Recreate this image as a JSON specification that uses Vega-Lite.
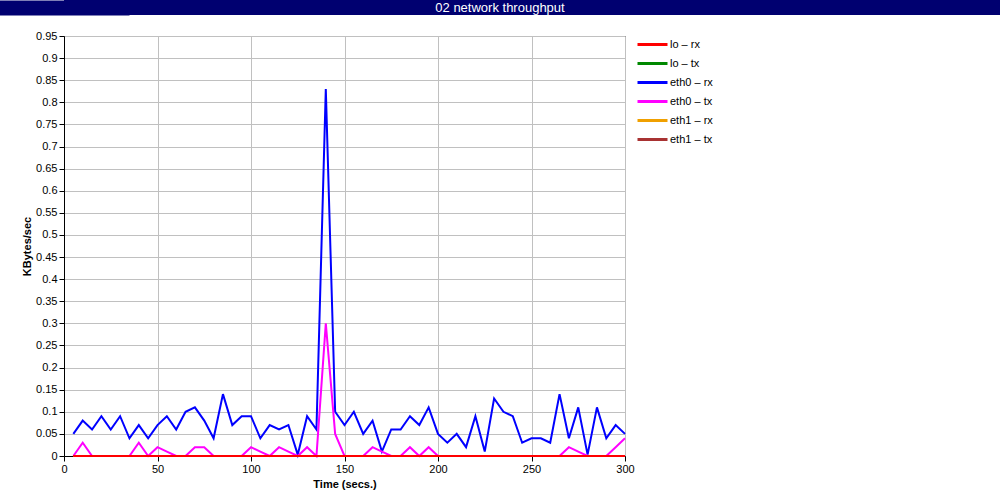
{
  "$schema": "https://vega.github.io/schema/vega-lite/v6.json",
  "background": "white",
  "padding": 0,
  "columns": 1,
  "align": "none",
  "spacing": 14,
  "resolve": {"legend": {"color": "independent"}, "scale": {"color": "independent"}},
  "config": {"font": "Liberation Sans"},
  "datasets": {
    "net": [
      {"t":5,"lo_rx":0,"lo_tx":0,"eth0_rx":0.05,"eth0_tx":0,"eth1_rx":0,"eth1_tx":0},
      {"t":10,"lo_rx":0,"lo_tx":0,"eth0_rx":0.08,"eth0_tx":0.03,"eth1_rx":0,"eth1_tx":0},
      {"t":15,"lo_rx":0,"lo_tx":0,"eth0_rx":0.06,"eth0_tx":0,"eth1_rx":0,"eth1_tx":0},
      {"t":20,"lo_rx":0,"lo_tx":0,"eth0_rx":0.09,"eth0_tx":0,"eth1_rx":0,"eth1_tx":0},
      {"t":25,"lo_rx":0,"lo_tx":0,"eth0_rx":0.06,"eth0_tx":0,"eth1_rx":0,"eth1_tx":0},
      {"t":30,"lo_rx":0,"lo_tx":0,"eth0_rx":0.09,"eth0_tx":0,"eth1_rx":0,"eth1_tx":0},
      {"t":35,"lo_rx":0,"lo_tx":0,"eth0_rx":0.04,"eth0_tx":0,"eth1_rx":0,"eth1_tx":0},
      {"t":40,"lo_rx":0,"lo_tx":0,"eth0_rx":0.07,"eth0_tx":0.03,"eth1_rx":0,"eth1_tx":0},
      {"t":45,"lo_rx":0,"lo_tx":0,"eth0_rx":0.04,"eth0_tx":0,"eth1_rx":0,"eth1_tx":0},
      {"t":50,"lo_rx":0,"lo_tx":0,"eth0_rx":0.07,"eth0_tx":0.02,"eth1_rx":0,"eth1_tx":0},
      {"t":55,"lo_rx":0,"lo_tx":0,"eth0_rx":0.09,"eth0_tx":0.01,"eth1_rx":0,"eth1_tx":0},
      {"t":60,"lo_rx":0,"lo_tx":0,"eth0_rx":0.06,"eth0_tx":0,"eth1_rx":0,"eth1_tx":0},
      {"t":65,"lo_rx":0,"lo_tx":0,"eth0_rx":0.10,"eth0_tx":0,"eth1_rx":0,"eth1_tx":0},
      {"t":70,"lo_rx":0,"lo_tx":0,"eth0_rx":0.11,"eth0_tx":0.02,"eth1_rx":0,"eth1_tx":0},
      {"t":75,"lo_rx":0,"lo_tx":0,"eth0_rx":0.08,"eth0_tx":0.02,"eth1_rx":0,"eth1_tx":0},
      {"t":80,"lo_rx":0,"lo_tx":0,"eth0_rx":0.04,"eth0_tx":0,"eth1_rx":0,"eth1_tx":0},
      {"t":85,"lo_rx":0,"lo_tx":0,"eth0_rx":0.14,"eth0_tx":0,"eth1_rx":0,"eth1_tx":0},
      {"t":90,"lo_rx":0,"lo_tx":0,"eth0_rx":0.07,"eth0_tx":0,"eth1_rx":0,"eth1_tx":0},
      {"t":95,"lo_rx":0,"lo_tx":0,"eth0_rx":0.09,"eth0_tx":0,"eth1_rx":0,"eth1_tx":0},
      {"t":100,"lo_rx":0,"lo_tx":0,"eth0_rx":0.09,"eth0_tx":0.02,"eth1_rx":0,"eth1_tx":0},
      {"t":105,"lo_rx":0,"lo_tx":0,"eth0_rx":0.04,"eth0_tx":0.01,"eth1_rx":0,"eth1_tx":0},
      {"t":110,"lo_rx":0,"lo_tx":0,"eth0_rx":0.07,"eth0_tx":0,"eth1_rx":0,"eth1_tx":0},
      {"t":115,"lo_rx":0,"lo_tx":0,"eth0_rx":0.06,"eth0_tx":0.02,"eth1_rx":0,"eth1_tx":0},
      {"t":120,"lo_rx":0,"lo_tx":0,"eth0_rx":0.07,"eth0_tx":0.01,"eth1_rx":0,"eth1_tx":0},
      {"t":125,"lo_rx":0,"lo_tx":0,"eth0_rx":0.003,"eth0_tx":0,"eth1_rx":0,"eth1_tx":0},
      {"t":130,"lo_rx":0,"lo_tx":0,"eth0_rx":0.09,"eth0_tx":0.02,"eth1_rx":0,"eth1_tx":0},
      {"t":135,"lo_rx":0,"lo_tx":0,"eth0_rx":0.06,"eth0_tx":0,"eth1_rx":0,"eth1_tx":0},
      {"t":140,"lo_rx":0,"lo_tx":0,"eth0_rx":0.83,"eth0_tx":0.30,"eth1_rx":0,"eth1_tx":0},
      {"t":145,"lo_rx":0,"lo_tx":0,"eth0_rx":0.10,"eth0_tx":0.05,"eth1_rx":0,"eth1_tx":0},
      {"t":150,"lo_rx":0,"lo_tx":0,"eth0_rx":0.07,"eth0_tx":0,"eth1_rx":0,"eth1_tx":0},
      {"t":155,"lo_rx":0,"lo_tx":0,"eth0_rx":0.10,"eth0_tx":0,"eth1_rx":0,"eth1_tx":0},
      {"t":160,"lo_rx":0,"lo_tx":0,"eth0_rx":0.05,"eth0_tx":0,"eth1_rx":0,"eth1_tx":0},
      {"t":165,"lo_rx":0,"lo_tx":0,"eth0_rx":0.08,"eth0_tx":0.02,"eth1_rx":0,"eth1_tx":0},
      {"t":170,"lo_rx":0,"lo_tx":0,"eth0_rx":0.01,"eth0_tx":0.01,"eth1_rx":0,"eth1_tx":0},
      {"t":175,"lo_rx":0,"lo_tx":0,"eth0_rx":0.06,"eth0_tx":0,"eth1_rx":0,"eth1_tx":0},
      {"t":180,"lo_rx":0,"lo_tx":0,"eth0_rx":0.06,"eth0_tx":0,"eth1_rx":0,"eth1_tx":0},
      {"t":185,"lo_rx":0,"lo_tx":0,"eth0_rx":0.09,"eth0_tx":0.02,"eth1_rx":0,"eth1_tx":0},
      {"t":190,"lo_rx":0,"lo_tx":0,"eth0_rx":0.07,"eth0_tx":0,"eth1_rx":0,"eth1_tx":0},
      {"t":195,"lo_rx":0,"lo_tx":0,"eth0_rx":0.11,"eth0_tx":0.02,"eth1_rx":0,"eth1_tx":0},
      {"t":200,"lo_rx":0,"lo_tx":0,"eth0_rx":0.05,"eth0_tx":0,"eth1_rx":0,"eth1_tx":0},
      {"t":205,"lo_rx":0,"lo_tx":0,"eth0_rx":0.03,"eth0_tx":0,"eth1_rx":0,"eth1_tx":0},
      {"t":210,"lo_rx":0,"lo_tx":0,"eth0_rx":0.05,"eth0_tx":0,"eth1_rx":0,"eth1_tx":0},
      {"t":215,"lo_rx":0,"lo_tx":0,"eth0_rx":0.02,"eth0_tx":0,"eth1_rx":0,"eth1_tx":0},
      {"t":220,"lo_rx":0,"lo_tx":0,"eth0_rx":0.09,"eth0_tx":0,"eth1_rx":0,"eth1_tx":0},
      {"t":225,"lo_rx":0,"lo_tx":0,"eth0_rx":0.01,"eth0_tx":0,"eth1_rx":0,"eth1_tx":0},
      {"t":230,"lo_rx":0,"lo_tx":0,"eth0_rx":0.13,"eth0_tx":0,"eth1_rx":0,"eth1_tx":0},
      {"t":235,"lo_rx":0,"lo_tx":0,"eth0_rx":0.10,"eth0_tx":0,"eth1_rx":0,"eth1_tx":0},
      {"t":240,"lo_rx":0,"lo_tx":0,"eth0_rx":0.09,"eth0_tx":0,"eth1_rx":0,"eth1_tx":0},
      {"t":245,"lo_rx":0,"lo_tx":0,"eth0_rx":0.03,"eth0_tx":0,"eth1_rx":0,"eth1_tx":0},
      {"t":250,"lo_rx":0,"lo_tx":0,"eth0_rx":0.04,"eth0_tx":0,"eth1_rx":0,"eth1_tx":0},
      {"t":255,"lo_rx":0,"lo_tx":0,"eth0_rx":0.04,"eth0_tx":0,"eth1_rx":0,"eth1_tx":0},
      {"t":260,"lo_rx":0,"lo_tx":0,"eth0_rx":0.03,"eth0_tx":0,"eth1_rx":0,"eth1_tx":0},
      {"t":265,"lo_rx":0,"lo_tx":0,"eth0_rx":0.14,"eth0_tx":0,"eth1_rx":0,"eth1_tx":0},
      {"t":270,"lo_rx":0,"lo_tx":0,"eth0_rx":0.04,"eth0_tx":0.02,"eth1_rx":0,"eth1_tx":0},
      {"t":275,"lo_rx":0,"lo_tx":0,"eth0_rx":0.11,"eth0_tx":0.01,"eth1_rx":0,"eth1_tx":0},
      {"t":280,"lo_rx":0,"lo_tx":0,"eth0_rx":0.003,"eth0_tx":0,"eth1_rx":0,"eth1_tx":0},
      {"t":285,"lo_rx":0,"lo_tx":0,"eth0_rx":0.11,"eth0_tx":0,"eth1_rx":0,"eth1_tx":0},
      {"t":290,"lo_rx":0,"lo_tx":0,"eth0_rx":0.04,"eth0_tx":0,"eth1_rx":0,"eth1_tx":0},
      {"t":295,"lo_rx":0,"lo_tx":0,"eth0_rx":0.07,"eth0_tx":0.02,"eth1_rx":0,"eth1_tx":0},
      {"t":300,"lo_rx":0,"lo_tx":0,"eth0_rx":0.05,"eth0_tx":0.04,"eth1_rx":0,"eth1_tx":0}
    ]
  },
  "concat": [
    {
      "width": 936,
      "height": 15,
      "view": {"fill": "#000070", "stroke": null},
      "data": {"values": [{"title": "02 network throughput"}]},
      "mark": {"type": "text", "color": "white", "font": "Liberation Sans", "fontSize": 13, "align": "center", "baseline": "middle", "dx": -32},
      "encoding": {
        "text": {"field": "title", "type": "nominal"},
        "y": {
          "field": "title", "type": "nominal",
          "axis": {"title": null, "labels": true, "labelExpr": "'.'", "labelColor": "#000070", "labelFontSize": 10,
                   "labelPadding": 61, "ticks": false, "tickSize": 0, "grid": false, "offset": 0,
                   "domain": true, "domainWidth": 130, "domainColor": "#000070", "domainCap": "butt"}
        }
      }
    },
    {
      "width": 561,
      "height": 420,
      "view": {"stroke": "black", "strokeWidth": 1},
      "data": {"name": "net"},
      "transform": [
        {"fold": ["lo_rx", "lo_tx", "eth0_rx", "eth0_tx", "eth1_rx", "eth1_tx"], "as": ["series", "value"]}
      ],
      "encoding": {
        "x": {
          "field": "t", "type": "quantitative",
          "scale": {"domain": [0, 300], "nice": false, "zero": false},
          "axis": {
            "title": "Time (secs.)", "values": [0, 50, 100, 150, 200, 250, 300], "format": "d",
            "labelFlush": false, "labelOverlap": false, "labelFontSize": 11, "labelColor": "black",
            "titleFontSize": 11, "titleFontWeight": "bold", "titleColor": "black", "titlePadding": 4,
            "tickSize": 5, "labelPadding": 2, "tickColor": "black", "domainColor": "black",
            "grid": true, "gridColor": "#c0c0c0", "gridWidth": 1
          }
        },
        "y": {
          "field": "value", "type": "quantitative",
          "scale": {"domain": [0, 0.95], "nice": false},
          "axis": {
            "title": "KBytes/sec",
            "values": [0, 0.05, 0.1, 0.15, 0.2, 0.25, 0.3, 0.35, 0.4, 0.45, 0.5, 0.55, 0.6, 0.65, 0.7, 0.75, 0.8, 0.85, 0.9, 0.95],
            "format": ".2~f", "labelFlush": false, "labelOverlap": false, "labelFontSize": 11, "labelColor": "black",
            "titleFontSize": 11, "titleFontWeight": "bold", "titleColor": "black", "titlePadding": 3,
            "tickSize": 5, "labelPadding": 2, "tickColor": "black", "domainColor": "black",
            "grid": true, "gridColor": "#c0c0c0", "gridWidth": 1
          }
        },
        "color": {
          "field": "series", "type": "nominal",
          "scale": {
            "domain": ["lo_rx", "lo_tx", "eth0_rx", "eth0_tx", "eth1_rx", "eth1_tx"],
            "range": ["#ff0000", "#008800", "#0000ff", "#ff00ff", "#f0a000", "#a83232"]
          },
          "legend": {
            "title": null, "orient": "right", "offset": 3, "padding": 3,
            "symbolType": "M-1,0H9", "symbolSize": 36, "symbolStrokeWidth": 3,
            "labelFontSize": 11, "labelColor": "black", "labelOffset": 24, "rowPadding": 6,
            "labelExpr": "replace(datum.label, '_', ' – ')"
          }
        }
      },
      "layer": [
        {"transform": [{"filter": "datum.series !== 'lo_rx'"}], "mark": {"type": "line", "strokeWidth": 2}},
        {"transform": [{"filter": "datum.series === 'lo_rx'"}], "mark": {"type": "line", "strokeWidth": 2}}
      ]
    }
  ]
}
